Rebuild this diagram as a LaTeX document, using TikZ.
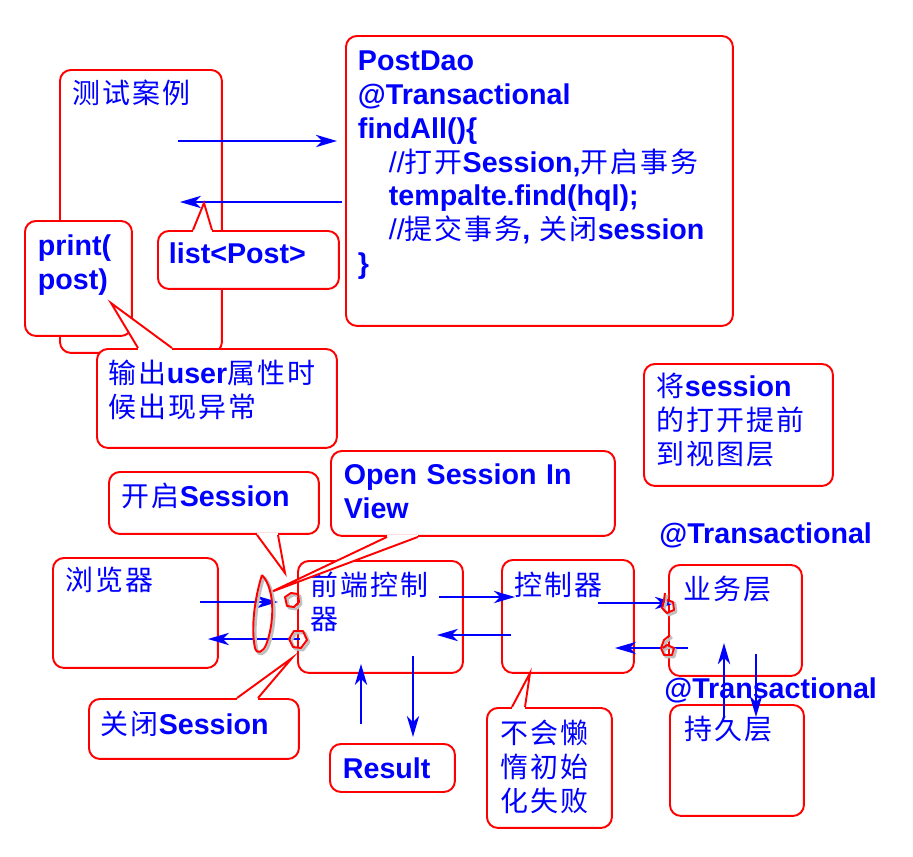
\documentclass[tikz,border=0pt]{standalone}
\usepackage{fontspec}
\setmainfont{Liberation Sans}
\newfontfamily\cjk{Noto Sans CJK SC}[LetterSpace=7]
\usetikzlibrary{arrows.meta,calc}
\newcommand{\zh}[1]{{\cjk\mdseries\fontsize{15.9pt}{19.2pt}\selectfont #1}}
\newcommand{\lbl}{\fontsize{16.3pt}{19.2pt}\selectfont\bfseries}
% callout tail: base point, tip, base point
\newcommand{\tailto}[3]{%
  \fill[white] #1 -- #2 -- #3 -- cycle;
  \draw[white,line width=1.8pt] #1 -- #3;
  \draw[edge] #1 -- #2 -- #3;}
\tikzset{
  box/.style={draw=red,line width=1.1pt,rounded corners=0.22cm,fill=white,anchor=north west,align=left,inner ysep=0pt,text=blue,font=\lbl},
  tag/.style={anchor=base west,inner sep=0pt,text=blue,font=\lbl},
  arr/.style={-{Stealth[length=12pt,width=7pt,inset=3.5pt]},line width=1.2pt,draw=blue},
  edge/.style={draw=red,line width=1.1pt},
  redmark/.style={draw=red,line width=1.1pt,line join=round},
  markshade/.style={draw=black!25,line width=1.6pt,line join=round,shift={(2,2)}},
}
\begin{document}
\begin{tikzpicture}[x=0.02cm,y=-0.02cm]
  \fill[white] (0,0) rectangle (913,856);
  \useasboundingbox (0,0) rectangle (913,856);

  % upper part: test case and dao
  \node[box,text width=2.72cm,inner xsep=0.26cm,text height=0.68cm,text depth=4.98cm] (test) at (59,69) {\zh{测试案例}};
  \node[box,text width=1.62cm,inner xsep=0.26cm,text height=0.70cm,text depth=1.60cm] (print) at (24,220) {print(\\post)};
  \node[box,text width=4.32cm,inner xsep=0.24cm,text height=0.70cm,text depth=1.28cm] (out) at (96,348) {\zh{输出}user\zh{属性时}\\\zh{候出现异常}};
  \tailto{($(out.north west)+(42,0)$)}{(111,303)}{($(out.north west)+(76,0)$)}
  \node[box,text width=7.26cm,inner xsep=0.24cm,text height=0.70cm,text depth=5.10cm] (dao) at (345,35) {PostDao\\
    @Transactional\\
    findAll()\{\\
    \hspace*{0.62cm}{\mdseries//}\zh{打开}Session,\zh{开启事务}\\
    \hspace*{0.62cm}tempalte.find(hql);\\
    \hspace*{0.62cm}{\mdseries//}\zh{提交事务}, \zh{关闭}session\\
    \}};
  \draw[arr] ($(test.north east)+(-45,72)$) -- ($(dao.north west)+(-8,106)$);
  \draw[arr] ($(dao.north west)+(-3,167)$) -- ($(test.north east)+(-43,133)$);
  \node[box,text width=3.18cm,inner xsep=0.22cm,text height=0.66cm,text depth=0.50cm] (list) at (157,230) {list<Post>};
  \tailto{($(list.north west)+(36,0)$)}{(204,203)}{($(list.north west)+(55,0)$)}

  % lower part: request chain
  \node[box,text width=3.26cm,inner xsep=0.26cm,text height=0.66cm,text depth=1.78cm] (view) at (643,363) {\zh{将}session\\\zh{的打开提前}\\\zh{到视图层}};
  \node[box,text width=2.78cm,inner xsep=0.26cm,text height=0.66cm,text depth=1.54cm] (browser) at (52,557) {\zh{浏览器}};
  \node[box,text width=2.78cm,inner xsep=0.26cm,text height=0.70cm,text depth=1.54cm] (front) at (297,560) {\zh{前端控制}\\\zh{器}};
  \node[box,text width=2.12cm,inner xsep=0.26cm,text height=0.72cm,text depth=1.54cm] (ctrl) at (501,559) {\zh{控制器}};
  \node[box,text width=2.06cm,inner xsep=0.30cm,text height=0.70cm,text depth=1.52cm] (svc) at (668,564) {\zh{业务层}};
  \node[box,text width=2.08cm,inner xsep=0.30cm,text height=0.70cm,text depth=1.52cm] (pers) at (669,704) {\zh{持久层}};
  \node[box,text width=1.98cm,inner xsep=0.26cm,text height=0.70cm,text depth=0.26cm] (result) at (329,743) {Result};
  \node[box,text width=1.94cm,inner xsep=0.28cm,text height=0.72cm,text depth=1.68cm] (lazy) at (486,707) {\zh{不会懒}\\\zh{惰初始}\\\zh{化失败}};
  \tailto{($(lazy.north west)+(26,0)$)}{(530,673)}{($(lazy.north west)+(39,0)$)}
  \node[box,text width=5.16cm,inner xsep=0.26cm,text height=0.68cm,text depth=1.02cm] (osiv) at (330,450) {Open Session In\\View};
  \tailto{($(osiv.south west)+(57,0)$)}{(271,592)}{($(osiv.south west)+(88,0)$)}
  \node[box,text width=3.68cm,inner xsep=0.26cm,text height=0.70cm,text depth=0.54cm] (open) at (108,471) {\zh{开启}Session};
  \tailto{($(open.south west)+(149,0)$)}{(285,573)}{($(open.south west)+(170,0)$)}
  \node[box,text width=3.72cm,inner xsep=0.24cm,text height=0.72cm,text depth=0.48cm] (close) at (88,698) {\zh{关闭}Session};
  \tailto{($(close.north west)+(149,0)$)}{(292,658)}{($(close.north west)+(170,0)$)}

  \node[tag] (tx1) at (659,543) {@Transactional};
  \node[tag] (tx2) at (664,698) {@Transactional};

  \draw[arr] ($(browser.north east)+(-19,45)$) -- ($(front.north west)+(-19,42)$);
  \draw[arr] ($(front.north west)+(3,79)$) -- ($(browser.north east)+(-11,82)$);
  \draw[arr] ($(front.north east)+(-25,37)$) -- ($(ctrl.north west)+(14,38)$);
  \draw[arr] ($(ctrl.north west)+(10,76)$) -- ($(front.north east)+(-27,75)$);
  \draw[arr] ($(ctrl.north east)+(-37,44)$) -- ($(svc.north west)+(8,39)$);
  \draw[arr] ($(svc.north west)+(20,84)$) -- ($(ctrl.north east)+(-20,89)$);
  \draw[arr] ($(result.north west)+(32,-19)$) -- ($(front.south west)+(64,-10)$);
  \draw[arr] ($(front.south west)+(116,-18)$) -- ($(result.north west)+(84,-6)$);
  \draw[arr] ($(pers.north west)+(55,13)$) -- ($(svc.north west)+(56,79)$);
  \draw[arr] ($(svc.north west)+(88,90)$) -- ($(pers.north west)+(87,13)$);

  % hand drawn marks
  \foreach \s in {markshade,redmark} {
    \draw[\s] (262,575) .. controls (276,590) and (274,625) .. (266,645)
      .. controls (263,652) and (257,655) .. (255,648)
      .. controls (251,630) and (254,600) .. (262,575);
    \draw[\s] (285,597) -- (291,593) -- (298,594) -- (299,602) -- (294,607) -- (287,606) -- cycle;
    \draw[\s] (289,639) -- (294,631) -- (303,631) -- (307,640) -- (301,648) -- (293,647) -- cycle;
    \draw[\s] (665,593) -- (664,600) -- (662,608) -- (667,613) -- (674,610) -- (673,602) -- (667,600);
    \draw[\s] (670,635) -- (664,640) -- (661,648) -- (664,655) -- (672,655) -- (674,648) -- (667,645) -- (663,648);
  }
\end{tikzpicture}
\end{document}
